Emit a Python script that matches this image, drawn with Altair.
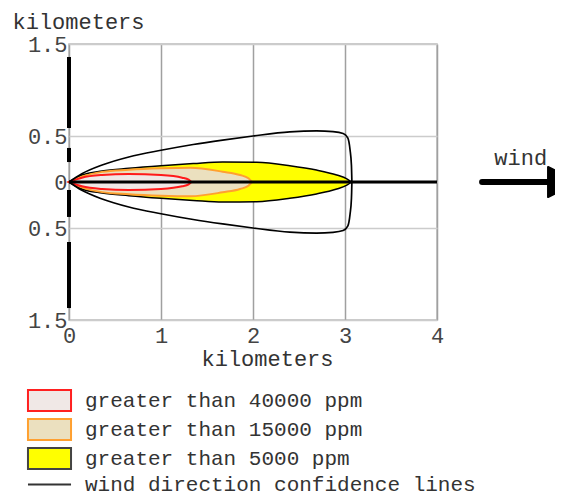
import altair as alt
import pandas as pd

FONT = "Liberation Mono"

# ---- threat zones: distance downwind (km) and half-width (km) ----
red_x = [0, 0.14, 0.36, 0.65, 1.0, 1.23, 1.30, 1.33]
red_h = [0, 0.047, 0.076, 0.087, 0.076, 0.047, 0.025, 0]

orange_x = [0, 0.14, 0.36, 0.65, 1.0, 1.32, 1.67, 1.86, 1.95, 1.99]
orange_h = [0, 0.058, 0.11, 0.133, 0.149, 0.155, 0.112, 0.076, 0.04, 0]

yellow_x = [0, 0.14, 0.36, 0.65, 1.0, 1.35, 1.67, 2.04, 2.40, 2.69, 2.91, 3.02, 3.07]
yellow_h = [0, 0.076, 0.12, 0.149, 0.177, 0.2, 0.218, 0.214, 0.177, 0.13, 0.076, 0.035, 0]

# wind direction confidence lines (upper branch; lower is mirrored)
conf_x = [0, 0.14, 0.36, 0.65, 1.0, 1.35, 1.67, 2.0, 2.4, 2.69, 2.87, 2.98, 3.03, 3.055, 3.07, 3.075]
conf_h = [0, 0.09, 0.185, 0.272, 0.345, 0.408, 0.456, 0.5, 0.545, 0.556, 0.548, 0.528, 0.48, 0.35, 0.18, 0]

# centre line (km)
center_x = [0, 4]

# broken left axis line segments (km)
seg_top = [1.359, 0.370, -0.087, -0.652]
seg_bottom = [0.587, 0.217, -0.380, -1.370]

# wind arrow (km)
arrow_x = [4.49, 5.30]
arrow_head_x = [5.37]
wind_label = ["wind"]
wind_label_x = [4.91]
wind_label_y = [0.185]

# axis ticks
x_ticks = [0, 1, 2, 3, 4]
y_ticks = [-1.5, -0.5, 0, 0.5, 1.5]

# legend
legend_labels = [
    "greater than 40000 ppm",
    "greater than 15000 ppm",
    "greater than 5000 ppm",
    "wind direction confidence lines",
]
legend_fills = ["#f0e8e6", "#ebe0bf", "#ffff00", "#000000"]
legend_strokes = ["#ff2020", "#ffa030", "#444444", "#333333"]
box_path = "M-2.05,-1H2.05V1H-2.05Z"
line_path = "M-2.05,0H2.05"
legend_shapes = [box_path, box_path, box_path, line_path]

xscale = alt.Scale(domain=[0, 4], nice=False, zero=False)
yscale = alt.Scale(domain=[-1.5, 1.5], nice=False, zero=False)

X = alt.X(
    "x:Q",
    scale=xscale,
    axis=alt.Axis(
        values=x_ticks,
        grid=True,
        gridColor="#a0a0a0",
        gridWidth=1.5,
        domain=False,
        ticks=False,
        tickSize=0,
        labelPadding=5,
        labelFont=FONT,
        labelFontSize=22,
        labelColor="#444",
        labelFlush=False,
        title="kilometers",
        titleFont=FONT,
        titleFontSize=22,
        titleFontWeight="normal",
        titleColor="#333",
        titleX=198,
        titleY=45,
        titleAlign="center",
        titleBaseline="alphabetic",
    ),
)

Y = alt.Y(
    "y:Q",
    scale=yscale,
    axis=alt.Axis(
        values=y_ticks,
        labelExpr="datum.value == 0 ? '0' : format(abs(datum.value), '.1f')",
        grid=True,
        gridColor="#cccccc",
        gridWidth=1.5,
        domain=False,
        ticks=False,
        tickSize=0,
        labelPadding=2,
        labelFont=FONT,
        labelFontSize=22,
        labelColor="#444",
        labelFlush=False,
        title="kilometers",
        titleFont=FONT,
        titleFontSize=22,
        titleFontWeight="normal",
        titleColor="#333",
        titleAngle=0,
        titleX=-57,
        titleY=-16,
        titleAlign="left",
        titleBaseline="alphabetic",
    ),
)


def zone(xs, hs, fill, stroke, sw):
    df = pd.DataFrame({"x": xs, "h": hs})
    return (
        alt.Chart(df)
        .transform_calculate(y="datum.h", y2="-datum.h")
        .mark_area(fill=fill, stroke=stroke, strokeWidth=sw, interpolate="monotone", opacity=1)
        .encode(x=X, y=Y, y2="y2:Q")
    )


yellow = zone(yellow_x, yellow_h, "#ffff00", "#000000", 1.5)
orange = zone(orange_x, orange_h, "#ebe0bf", "#ffa030", 2)
red = zone(red_x, red_h, "#f0e8e6", "#ff1a1a", 2)

conf_df = pd.concat(
    [
        pd.DataFrame({"x": conf_x, "y": conf_h, "branch": "upper"}),
        pd.DataFrame({"x": conf_x, "y": [-v for v in conf_h], "branch": "lower"}),
    ]
)
conf = (
    alt.Chart(conf_df)
    .mark_line(color="#000", strokeWidth=1.7, interpolate="monotone")
    .encode(x=X, y=Y, detail="branch:N")
)

center = (
    alt.Chart(pd.DataFrame({"x": [center_x[0]], "x2": [center_x[1]], "y": [0]}))
    .mark_rule(color="#000", strokeWidth=3)
    .encode(x=X, x2="x2:Q", y=Y)
)

segs = (
    alt.Chart(pd.DataFrame({"x": [0] * len(seg_top), "y": seg_top, "y2": seg_bottom}))
    .mark_rule(color="#000", strokeWidth=4)
    .encode(x=X, y=Y, y2="y2:Q")
)

shaft = (
    alt.Chart(pd.DataFrame({"x": [arrow_x[0]], "x2": [arrow_x[1]], "y": [0]}))
    .mark_rule(color="#000", strokeWidth=6, strokeCap="round")
    .encode(x=X, x2="x2:Q", y=Y)
)

head = (
    alt.Chart(pd.DataFrame({"x": arrow_head_x, "y": [0]}))
    .mark_point(shape="M-1,-1L1,0L-1,1Z", size=900, filled=True, fill="#000", stroke="#000", strokeWidth=2, strokeJoin="round", opacity=1)
    .encode(x=X, y=Y)
)

wind = (
    alt.Chart(pd.DataFrame({"x": wind_label_x, "y": wind_label_y, "t": wind_label}))
    .mark_text(font=FONT, fontSize=22, color="#333", align="center", baseline="alphabetic")
    .encode(x=X, y=Y, text="t:N")
)

leg = alt.Legend(
    orient="none",
    legendX=-31,
    legendY=345,
    title=None,
    labelFont=FONT,
    labelFontSize=21,
    labelColor="#333",
    labelLimit=0,
    symbolSize=441,
    symbolStrokeWidth=2,
    rowPadding=0,
    labelOffset=24,
    symbolOffset=0,
    padding=0,
)

legend_df = pd.DataFrame({"label": legend_labels, "x": [None] * 4, "y": [None] * 4})
legend_layer = (
    alt.Chart(legend_df)
    .mark_point(filled=True, opacity=1, strokeWidth=2)
    .encode(
        x=X,
        y=Y,
        fill=alt.Fill("label:N", scale=alt.Scale(domain=legend_labels, range=legend_fills), legend=leg),
        stroke=alt.Stroke("label:N", scale=alt.Scale(domain=legend_labels, range=legend_strokes), legend=leg),
        shape=alt.Shape("label:N", scale=alt.Scale(domain=legend_labels, range=legend_shapes), legend=leg),
    )
)

chart = (
    alt.layer(yellow, orange, red, conf, center, segs, shaft, head, wind, legend_layer)
    .properties(
        width=368,
        height=276,
        autosize=alt.AutoSizeParams(type="none"),
        padding={"left": 61, "top": 36, "right": 118, "bottom": 173},
    )
    .configure(font=FONT)
    .configure_view(stroke="#bbbbbb", strokeWidth=1.5)
)

chart.save("out.html", embed_options={"renderer": "svg", "actions": False})
